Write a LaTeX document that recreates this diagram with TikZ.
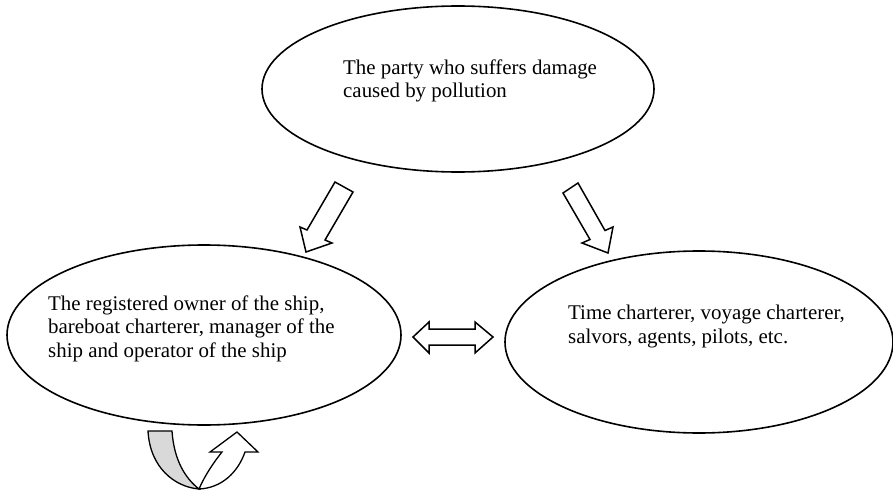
\documentclass[tikz,border=0pt]{standalone}
\usepackage{fontspec}
\setmainfont{Liberation Serif}
\usetikzlibrary{shapes.geometric}
\begin{document}
\begin{tikzpicture}[x=1pt,y=-1pt,
  oval/.style={ellipse, draw, line width=1.6pt, inner sep=0pt},
  lbl/.style={anchor=base west, align=left, inner sep=0pt, font=\fontsize{20.9}{23.5}\selectfont},
  blockarrow/.style={draw, line width=1.5pt, fill=white, line join=miter}]
\useasboundingbox (0,0) rectangle (893,492);
% ellipses
\node[oval, minimum width=392pt, minimum height=166pt] (party) at (458,89) {};
\node[oval, minimum width=394pt, minimum height=180pt] (owner) at (204,335) {};
\node[oval, minimum width=388pt, minimum height=182pt] (others) at (699,342) {};
% texts (base anchor = baseline of last line)
\node[lbl] (t1) at (343,98) {The party who suffers damage\\caused by pollution};
\node[lbl] (t2) at (48,357) {The registered owner of the ship,\\bareboat charterer, manager of the\\ship and operator of the ship};
\node[lbl] (t3) at (568,343) {Time charterer, voyage charterer,\\salvors, agents, pilots, etc.};
% down-left arrow
\draw[blockarrow] (335,182) -- (353,192) -- (325,240) -- (332,243) -- (306,252) -- (300,227) -- (307,230) -- cycle;
% down-right arrow
\draw[blockarrow] (563,193) -- (578,183) -- (605,230.5) -- (613,227) -- (608,253) -- (582,243) -- (590,239.5) -- cycle;
% double arrow
\draw[blockarrow] (413,337) -- (429,322) -- (429,329) -- (475,329) -- (475,322) -- (493,337) -- (475,353) -- (475,345) -- (429,345) -- (429,353) -- cycle;
% self-referential U-turn arrow
\draw[line width=1.3pt, fill=gray!30] (148,431) -- (172,431) .. controls (174,460) and (185,478) .. (199,489)
   .. controls (175,487) and (150,468) .. (148,431) -- cycle;
\draw[line width=1.3pt, fill=white] (199,489) .. controls (205,475) and (214,462) .. (222,452) -- (210,452) -- (237,432) -- (258,452) -- (245,452)
   .. controls (238,472) and (222,488) .. (199,489) -- cycle;
\end{tikzpicture}
\end{document}
